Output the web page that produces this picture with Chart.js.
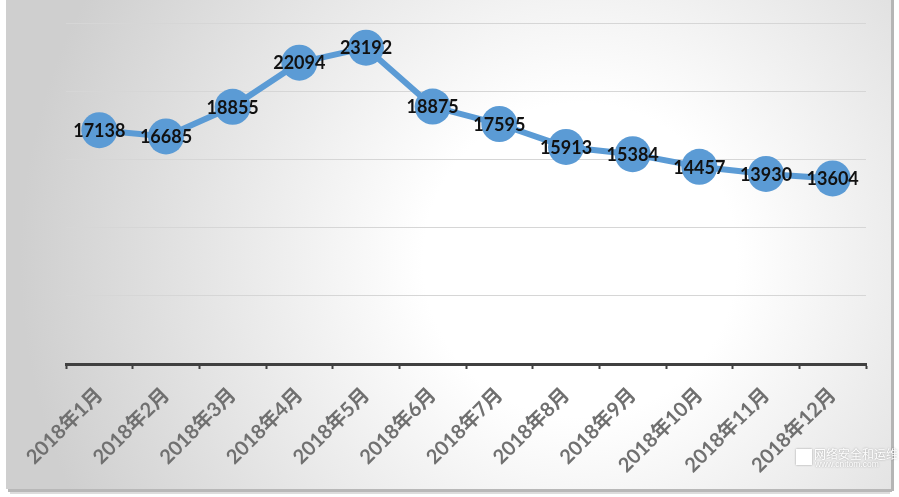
<!DOCTYPE html>
<html>
<head>
<meta charset="utf-8">
<style>
  html, body { margin: 0; padding: 0; background: #fff; }
  #wrap { width: 899px; height: 497px; position: relative; }
</style>
<script src="https://cdn.jsdelivr.net/npm/chart.js@4.4.1/dist/chart.umd.min.js"></script>
</head>
<body>
<div id="wrap"><canvas id="c" width="899" height="497"></canvas></div>
<script>
const categories = ['2018年1月','2018年2月','2018年3月','2018年4月','2018年5月','2018年6月','2018年7月','2018年8月','2018年9月','2018年10月','2018年11月','2018年12月'];
const values = [17138, 16685, 18855, 22094, 23192, 18875, 17595, 15913, 15384, 14457, 13930, 13604];
const yMin = 0;
const yMax = 25000;
const yStep = 5000;
const watermarkTitle = '网络安全和运维';
const watermarkUrl = 'www.cnitom.com';

const bgPlugin = {
  id: 'bg',
  beforeDraw(chart) {
    const ctx = chart.ctx;
    ctx.save();
    ctx.fillStyle = '#ffffff';
    ctx.fillRect(0, 0, chart.width, chart.height);
    ctx.fillStyle = '#b8b8b8';
    ctx.fillRect(8, 489, 884, 3);
    ctx.fillStyle = '#dcdcdc';
    ctx.fillRect(10, 492, 880, 2);
    ctx.fillStyle = '#b5b5b5';
    ctx.fillRect(891, 0, 3, 491);
    const g = ctx.createRadialGradient(580, 260, 0, 580, 260, 560);
    g.addColorStop(0, '#ffffff');
    g.addColorStop(0.28, '#ffffff');
    g.addColorStop(1, '#cfcfcf');
    ctx.fillStyle = g;
    ctx.fillRect(6, 0, 885, 489);
    ctx.restore();
  }
};

const labelPlugin = {
  id: 'valueLabels',
  afterDatasetsDraw(chart) {
    const ctx = chart.ctx;
    const meta = chart.getDatasetMeta(0);
    const data = chart.data.datasets[0].data;
    ctx.save();
    ctx.font = 'bold 18px Lato, "Open Sans", sans-serif';
    ctx.fillStyle = '#111111';
    ctx.textAlign = 'center';
    ctx.textBaseline = 'middle';
    meta.data.forEach((pt, i) => {
      ctx.fillText(String(data[i]), pt.x, pt.y + 1);
    });
    ctx.restore();
  },
  afterDraw(chart) {
    const ctx = chart.ctx;
    ctx.save();
    ctx.shadowColor = 'rgba(0,0,0,0.35)';
    ctx.shadowBlur = 2;
    ctx.fillStyle = '#ffffff';
    ctx.fillRect(796, 449, 16, 16);
    ctx.font = '12px "Noto Sans CJK SC", sans-serif';
    ctx.textAlign = 'left';
    ctx.textBaseline = 'alphabetic';
    ctx.fillText(watermarkTitle, 814, 459);
    ctx.font = '8.5px "Liberation Sans", sans-serif';
    ctx.fillText(watermarkUrl, 815, 467);
    ctx.restore();
  }
};

new Chart(document.getElementById('c'), {
  type: 'line',
  data: {
    labels: categories,
    datasets: [{
      data: values,
      borderColor: '#5b9bd5',
      borderWidth: 6,
      backgroundColor: '#5b9bd5',
      pointBackgroundColor: '#5b9bd5',
      pointBorderWidth: 0,
      pointRadius: 18,
      tension: 0,
      fill: false
    }]
  },
  options: {
    responsive: false,
    animation: false,
    devicePixelRatio: 1,
    layout: { padding: { left: 66, right: 33, top: 23, bottom: 0 } },
    plugins: { legend: { display: false }, tooltip: { enabled: false } },
    scales: {
      x: {
        type: 'category',
        offset: true,
        afterFit(scale) { scale.height = 133; },
        grid: {
          offset: true,
          drawOnChartArea: false,
          drawTicks: true,
          tickLength: 5,
          tickWidth: 2,
          tickColor: '#404040'
        },
        border: { display: true, color: '#404040', width: 3 },
        ticks: {
          autoSkip: false,
          minRotation: 45,
          maxRotation: 45,
          padding: 14,
          color: '#707070',
          font: { family: 'Lato, "Noto Sans CJK SC", sans-serif', size: 20, weight: 'bold' }
        }
      },
      y: {
        min: yMin,
        max: yMax,
        afterFit(scale) { scale.width = 0; },
        ticks: { display: false, stepSize: yStep },
        border: { display: false },
        grid: { color: '#d6d6d6', lineWidth: 1, drawTicks: false }
      }
    }
  },
  plugins: [bgPlugin, labelPlugin]
});
</script>
</body>
</html>
